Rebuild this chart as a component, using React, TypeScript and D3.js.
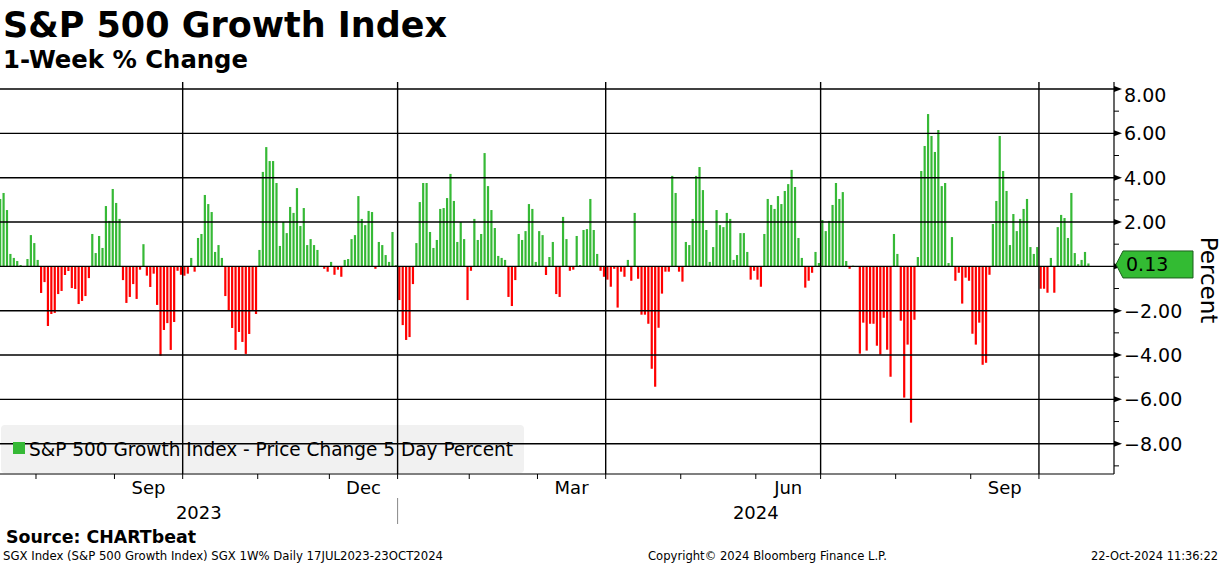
import React from 'react';
import * as d3 from 'd3';

// 5-day % change, one value per trading day, 17 Jul 2023 .. 21 Oct 2024
const values: number[] = [
  3.04, 3.31, 2.54, 0.56, 0.38, 0.24, 0.06, -0.03, 0.33, 1.41, 1.05, 0.29, -1.2, -0.71, -2.69, -2.15, -2.1, -1.25, -1.11, -0.39, -0.21,
  -0.98, -1.02, -1.7, -1.56, -1.34, -0.53, 1.46, 0.6, 1.37, 0.83, 2.72, 2.05, 3.49, 2.86, 2.14, -0.62, -1.65, -1.38, -0.8, -1.47,
  -0.15, 1.0, -0.42, -0.93, -0.33, -1.74, -4.03, -2.87, -2.56, -3.77, -2.51, -0.2, -0.38, -0.42, -0.33, 0.38, -0.24, 1.28, 1.46, 3.22,
  2.81, 2.45, 0.65, 0.96, 0.38, -1.34, -1.97, -2.78, -3.77, -2.96, -3.41, -3.95, -3.05, -1.97, -2.15, 0.74, 4.26, 5.38, 4.75, 4.75, 3.76,
  0.92, 2.0, 1.5, 2.68, 2.41, 3.53, 1.82, 2.63, 0.96, 1.23, 0.96, 0.74, 0.02, -0.11, -0.24, 0.2, -0.38, -0.15, -0.47, 0.29, 0.33,
  1.23, 1.41, 3.17, 2.14, 1.86, 2.5, 2.45, -0.11, 1.1, 0.96, 0.51, 0.2, 1.55, 0.05, -1.52, -2.65, -3.32, -3.19, -0.8, 1.05,
  2.9, 3.76, 3.76, 1.55, 0.83, 1.19, 2.59, 2.63, 3.08, 4.17, 2.95, 1.1, 2.0, 1.23, -1.52, -0.2, 2.14, 1.19, 1.46, 5.11, 3.62,
  2.54, 1.73, 0.47, 0.38, 0.29, -1.38, -1.79, -0.62, 1.46, 1.19, 1.59, 2.81, 2.59, 0.2, 1.59, 1.41, -0.39, 0.42, 1.1, -1.25, -1.38,
  2.23, 1.23, -0.2, -0.15, 1.37, 0.06, 1.64, 1.68, 3.04, 1.64, 0.56, -0.2, -0.47, -0.6, -0.92, -0.11, -1.86, -0.24, -0.47, 0.29, -0.65,
  2.41, -0.56, -2.18, -2.18, -2.59, -4.62, -5.43, -2.77, -1.23, -0.24, -0.24, 4.08, 3.31, -0.24, -0.69, 1.1, 0.96, 2.14, 4.08, 4.48,
  3.44, 1.64, 0.2, 0.87, 2.54, 1.86, 1.77, 2.41, 2.14, 0.29, 0.51, 1.5, 1.5, 0.65, -0.6, -0.2, -0.6, -0.92, 1.46, 3.04, 2.77,
  2.59, 3.17, 2.81, 3.4, 3.71, 4.35, 3.58, 1.28, 0.38, -0.96, -0.65, -0.29, 0.65, 0.15, 2.09, 1.59, 2.05, 2.77, 3.76, 3.04,
  3.35, 0.24, -0.11, 0.03, -0.03, -3.94, -2.54, -3.8, -2.59, -2.59, -3.58, -3.98, -2.32, -3.76, -4.98, 1.46, 0.56, -2.45, -5.92, -3.53, -7.05,
  -2.41, 0.42, 4.3, 5.43, 6.87, 5.88, 5.16, 6.15, 3.62, 3.76, 0.15, 1.32, -0.65, -0.29, -1.68, -0.51, -0.65, -3.04, -3.53, -2.54,
  -4.44, -4.35, -0.38, 1.91, 2.95, 5.88, 4.3, 3.4, 0.96, 2.36, 1.59, 2.14, 2.59, 3.04, 0.87, 0.56, 0.87, -1.01, -1.01, -1.19, 0.38,
  -1.19, 1.77, 2.32, 2.18, 1.28, 3.31, 0.6, 0.1, 0.29, 0.65, 0.13,
];

// trading-day indices of the first session of each month
const monthStartIdx = [11, 34, 54, 76, 97, 117, 138, 158, 178, 200, 222, 241, 263, 285, 305];
const quarterStartIdx = [54, 117, 178, 241, 305];
const monthLabelNames = ['Sep', 'Dec', 'Mar', 'Jun', 'Sep'];
const monthLabelFrom = [34, 97, 158, 222, 285];
const monthLabelTo = [54, 117, 178, 241, 305];
const yearLabels = ['2023', '2024'];
const yearFrom = [-0.05, 116.5];
const yearTo = [116.5, 326.5];
const yMajorTicks = [8, 6, 4, 2, 0, -2, -4, -6, -8];
const yMinorTicks = [7, 5, 3, 1, -1, -3, -5, -7, -9];

const GREEN = '#36b936';
const RED = '#ff0000';
const FONT = '"DejaVu Sans", Verdana, sans-serif';

export default function App() {
  const W = 1224;
  const H = 566;
  const left = 0, right = 1114, top = 82, bottom = 474;
  const xs = d3.scaleLinear().domain([-0.05, 326.5]).range([left, right]);
  const ys = d3.scaleLinear().domain([8, -8]).range([89, 443.7]);
  const fmt = d3.format('.2f');
  const barW = 2.2;
  const last = values[values.length - 1];
  const yv = ys(last) + 1;

  return (
    <svg width={W} height={H} style={{ position: 'absolute', left: 0, top: 0, background: '#fff' }} fontFamily={FONT}>
      <defs>
        <clipPath id="plotclip">
          <rect x={left} y={top} width={right - left} height={bottom - top} />
        </clipPath>
      </defs>
      <rect x={0} y={0} width={W} height={H} fill="#fff" />

      {/* titles */}
      <text x={3} y={37} fontSize={36} fontWeight="bold" textLength={444} lengthAdjust="spacingAndGlyphs">S&amp;P 500 Growth Index</text>
      <text x={3} y={68} fontSize={25} fontWeight="bold" textLength={245} lengthAdjust="spacingAndGlyphs">1-Week % Change</text>

      {/* legend box (behind grid) */}
      <rect x={1} y={425} width={523} height={48} rx={4} fill="#f1f1f1" />

      {/* bars */}
      <g clipPath="url(#plotclip)">
        {values.map((v, i) => (
          <rect key={i} x={xs(i) - barW / 2} width={barW}
            y={ys(Math.max(v, 0))} height={Math.max(Math.abs(ys(v) - ys(0)), 0.6)}
            fill={v >= 0 ? GREEN : RED} />
        ))}
      </g>

      {/* horizontal grid */}
      {yMajorTicks.map((t) => (
        <line key={'h' + t} x1={left} x2={right} y1={ys(t)} y2={ys(t)} stroke="#000" strokeWidth={1.4} />
      ))}
      {/* vertical grid at quarter starts */}
      {quarterStartIdx.map((m) => (
        <line key={'v' + m} x1={xs(m - 0.5)} x2={xs(m - 0.5)} y1={top} y2={bottom} stroke="#000" strokeWidth={1.4} />
      ))}

      {/* axes */}
      <line x1={left} x2={right} y1={bottom} y2={bottom} stroke="#000" strokeWidth={1.2} />
      <line x1={right} x2={right} y1={top} y2={bottom} stroke="#000" strokeWidth={1.2} />
      {monthStartIdx.map((m) => (
        <line key={'mt' + m} x1={xs(m - 0.5)} x2={xs(m - 0.5)} y1={bottom} y2={bottom + 5} stroke="#000" strokeWidth={1} />
      ))}
      {yMinorTicks.map((t) => (
        <line key={'mn' + t} x1={right} x2={right + 5} y1={ys(t)} y2={ys(t)} stroke="#000" strokeWidth={1} />
      ))}
      {yMajorTicks.map((t) => (
        <polygon key={'mj' + t} points={`${right},${ys(t) - 3} ${right + 8},${ys(t)} ${right},${ys(t) + 3}`} fill="#000" />
      ))}
      {yMajorTicks.filter((t) => t !== 0).map((t) => (
        <text key={'yl' + t} x={right + 10} y={t === 8 ? ys(t) + 6 : ys(t)} dy="0.36em" fontSize={19} fill="#000">{fmt(t)}</text>
      ))}
      <text transform={`translate(1201,280) rotate(90)`} textAnchor="middle" fontSize={23} fill="#000">Percent</text>

      {/* last value marker */}
      <polygon
        points={`${right + 2},${yv} ${right + 9},${yv - 13.5} ${1193},${yv - 13.5} ${1193},${yv + 13.5} ${right + 9},${yv + 13.5}`}
        fill="#33bb33" stroke="#1d5c1d" strokeWidth={1} />
      <text x={right + 12} y={yv} dy="0.36em" fontSize={19} fill="#000">{fmt(last)}</text>

      {/* x labels */}
      {monthLabelNames.map((n, i) => (
        <text key={'ml' + i} x={xs((monthLabelFrom[i] + monthLabelTo[i]) / 2 - 0.5)} y={494} textAnchor="middle" fontSize={18} fill="#000">{n}</text>
      ))}
      {yearLabels.map((n, i) => (
        <text key={'yr' + i} x={xs((yearFrom[i] + yearTo[i]) / 2)} y={519} textAnchor="middle" fontSize={18} fill="#000">{n}</text>
      ))}
      <line x1={xs(116.5)} x2={xs(116.5)} y1={498} y2={524} stroke="#888" strokeWidth={1} />

      {/* legend contents */}
      <rect x={13} y={442} width={12} height={12} fill={GREEN} />
      <text x={29} y={456} fontSize={19} fill="#000" textLength={484} lengthAdjust="spacingAndGlyphs">S&amp;P 500 Growth Index - Price Change 5 Day Percent</text>

      {/* footer */}
      <text x={6} y={543} fontSize={17} fontWeight="bold" textLength={190} lengthAdjust="spacingAndGlyphs">Source: CHARTbeat</text>
      <text x={3} y={560} fontSize={12} textLength={440} lengthAdjust="spacingAndGlyphs">SGX Index (S&amp;P 500 Growth Index) SGX 1W%  Daily 17JUL2023-23OCT2024</text>
      <text x={648} y={560} fontSize={12} textLength={239} lengthAdjust="spacingAndGlyphs">Copyright© 2024 Bloomberg Finance L.P.</text>
      <text x={1091} y={560} fontSize={12} textLength={127} lengthAdjust="spacingAndGlyphs">22-Oct-2024 11:36:22</text>
    </svg>
  );
}
